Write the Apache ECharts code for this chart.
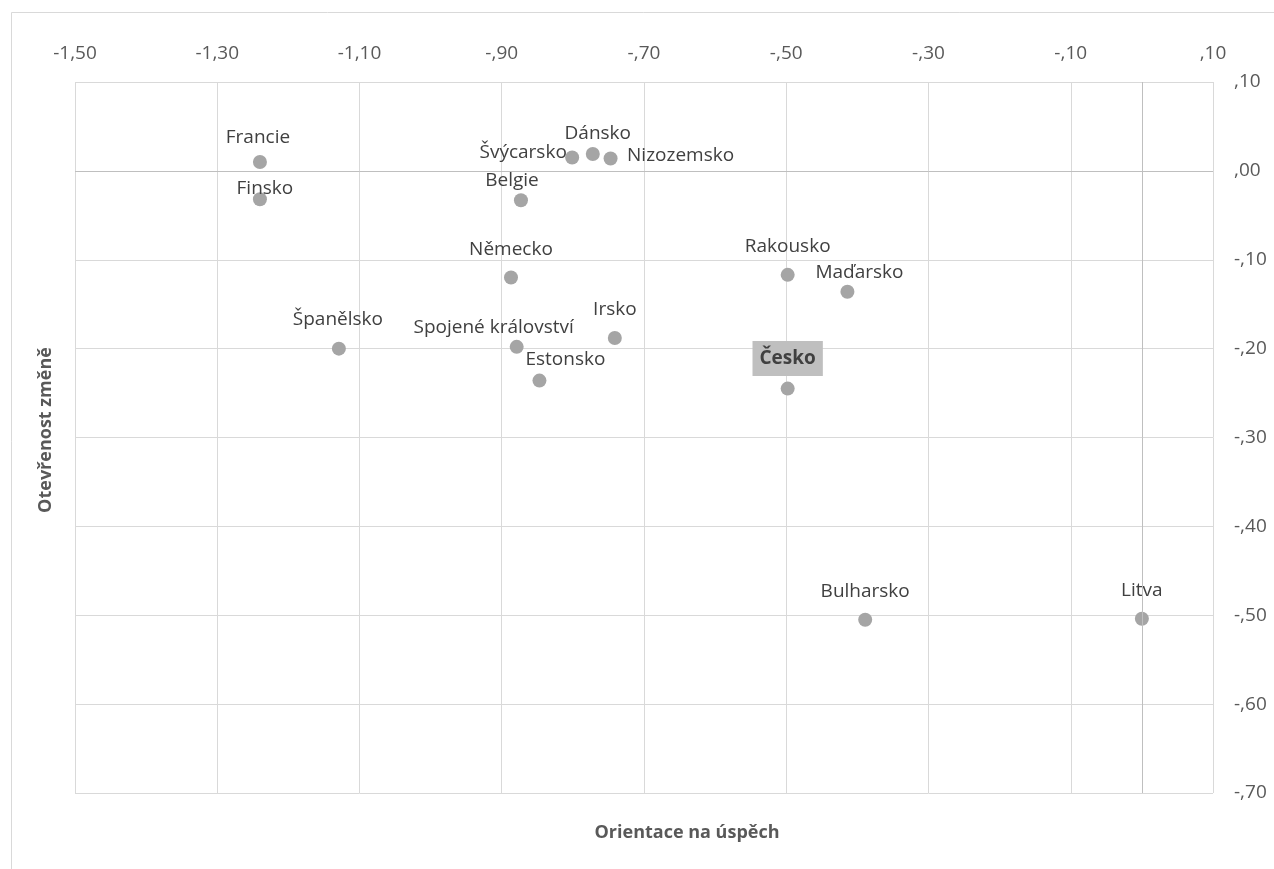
<!DOCTYPE html>
<html>
<head>
<meta charset="utf-8">
<script src="https://cdn.jsdelivr.net/npm/echarts@6/dist/echarts.min.js"></script>
<style>
  html, body { margin: 0; padding: 0; background: #ffffff; }
  #chart { width: 1274px; height: 869px; }
</style>
</head>
<body>
<div id="chart"></div>
<script>
// ---- Data ----
const countries = ['Francie', 'Finsko', 'Belgie', 'Švýcarsko', 'Dánsko', 'Nizozemsko', 'Německo', 'Rakousko', 'Maďarsko', 'Španělsko', 'Spojené království', 'Irsko', 'Estonsko', 'Česko', 'Bulharsko', 'Litva'];
const successOrientation = [-1.240, -1.240, -0.873, -0.801, -0.772, -0.747, -0.887, -0.498, -0.414, -1.129, -0.879, -0.741, -0.847, -0.498, -0.389, 0.000];
const opennessToChange = [0.010, -0.032, -0.033, 0.015, 0.019, 0.014, -0.120, -0.117, -0.136, -0.200, -0.198, -0.188, -0.236, -0.245, -0.505, -0.504];
const xTickLabels = ['-1,50', '-1,30', '-1,10', '-,90', '-,70', '-,50', '-,30', '-,10', ',10'];
const yTickLabels = [',10', ',00', '-,10', '-,20', '-,30', '-,40', '-,50', '-,60', '-,70'];
const xAxisTitle = 'Orientace na úspěch';
const yAxisTitle = 'Otevřenost změně';
const highlighted = 'Česko';

// ---- Layout / style (not data) ----
const labelOffsets = {
  'Francie': [-2, -24], 'Finsko': [5, -11], 'Belgie': [-9, -20], 'Švýcarsko': [-49, -5],
  'Dánsko': [5, -20], 'Nizozemsko': [70, -3], 'Německo': [0, -28], 'Rakousko': [0, -28],
  'Maďarsko': [12, -19], 'Španělsko': [-1, -29], 'Spojené království': [-23, -19],
  'Irsko': [0, -28], 'Estonsko': [26, -21], 'Česko': [0, -30], 'Bulharsko': [0, -28], 'Litva': [0, -28]
};
const FONT = '"Open Sans", "Noto Sans", sans-serif';
const SYMBOL = 14;
const xMin = -1.5, xMax = 0.1, xStep = 0.2;
const yMin = -0.7, yMax = 0.1, yStep = 0.1;

const points = countries.map((c, i) => {
  const off = labelOffsets[c] || [0, -28];
  const label = {
    position: [SYMBOL / 2 + off[0], SYMBOL / 2 + off[1]],
    align: 'center', verticalAlign: 'middle'
  };
  if (c === highlighted) {
    Object.assign(label, {
      fontWeight: 'bold',
      backgroundColor: '#bfbfbf',
      padding: [8, 7, 8, 7]
    });
  }
  return { name: c, value: [successOrientation[i], opennessToChange[i]], label };
});

const chart = echarts.init(document.getElementById('chart'));
chart.setOption({
  backgroundColor: '#ffffff',
  animation: false,
  grid: { left: 75, right: 61, top: 82, bottom: 76, containLabel: false },
  xAxis: {
    type: 'value', position: 'top', min: xMin, max: xMax, interval: xStep,
    axisLine: { show: false }, axisTick: { show: false },
    splitLine: { show: true, lineStyle: { color: '#d9d9d9', width: 1 } },
    axisLabel: {
      margin: 19, color: '#595959', fontSize: 19, fontFamily: FONT,
      formatter: v => xTickLabels[Math.round((v - xMin) / xStep)]
    }
  },
  yAxis: {
    type: 'value', position: 'right', min: yMin, max: yMax, interval: yStep,
    axisLine: { show: false }, axisTick: { show: false },
    splitLine: { show: true, lineStyle: { color: '#d9d9d9', width: 1 } },
    axisLabel: {
      margin: 21, color: '#595959', fontSize: 19, fontFamily: FONT, align: 'left',
      padding: [4, 0, 0, 0],
      formatter: v => yTickLabels[Math.round((yMax - v) / yStep)]
    }
  },
  series: [
    {
      type: 'scatter', z: 1, data: [],
      markLine: {
        silent: true, symbol: 'none', animation: false,
        label: { show: false },
        lineStyle: { color: '#bfbfbf', width: 1, type: 'solid' },
        data: [{ xAxis: 0 }, { yAxis: 0 }]
      }
    },
    {
      type: 'scatter', z: 3,
      symbol: 'circle', symbolSize: SYMBOL,
      itemStyle: { color: '#a5a5a5', opacity: 1 },
      label: {
        show: true,
        formatter: p => p.name,
        color: '#404040', fontSize: 19, fontFamily: FONT
      },
      labelLayout: { hideOverlap: false },
      data: points
    }
  ],
  graphic: [
    {
      type: 'rect', silent: true, z: 0,
      shape: { x: 11.5, y: 12.5, width: 1400, height: 1000 },
      style: { fill: 'none', stroke: '#d9d9d9', lineWidth: 1 }
    },
    {
      type: 'text', silent: true, x: 687, y: 833,
      style: { text: xAxisTitle, fill: '#595959', font: 'bold 18px ' + FONT, textAlign: 'center', textVerticalAlign: 'middle' }
    },
    {
      type: 'text', silent: true, x: 46, y: 430, rotation: Math.PI / 2,
      style: { text: yAxisTitle, fill: '#595959', font: 'bold 18px ' + FONT, textAlign: 'center', textVerticalAlign: 'middle' }
    }
  ]
});
</script>
</body>
</html>
